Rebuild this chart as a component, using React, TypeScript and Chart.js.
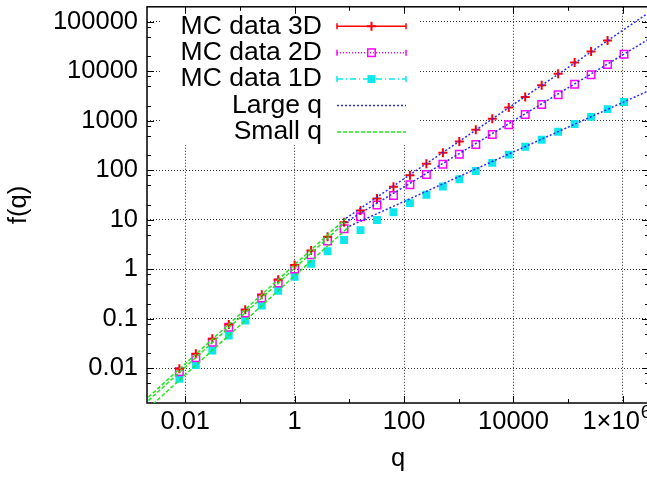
import React, { useEffect, useRef } from 'react';
import { Chart, registerables } from 'chart.js';

Chart.register(...registerables);

// ---- data ----
const qValues = [
  0.0078125, 0.015625, 0.03125, 0.0625, 0.125, 0.25, 0.5, 1, 2, 4, 8, 16, 32, 64,
  128, 256, 512, 1024, 2048, 4096, 8192, 16384, 32768, 65536, 131072, 262144, 524288, 1048576,
];
const mc3D = [
  0.0098, 0.0197, 0.0395, 0.0766, 0.153, 0.307, 0.615, 1.23, 2.39, 4.57, 8.9, 15.5, 27, 46.5,
  79, 135, 227, 383, 658, 1094, 1845, 3020, 5190, 8870, 15000, 25000, 41600,
];
const mc2D = [
  0.0086, 0.0164, 0.0338, 0.0676, 0.132, 0.264, 0.528, 1.02, 1.97, 3.75, 6.6, 11.5, 19.8, 31,
  50.8, 82, 132, 210, 333, 529, 829, 1335, 2120, 3370, 5450, 8500, 13700, 22100,
];
const mc1D = [
  0.0062, 0.0117, 0.023, 0.046, 0.092, 0.185, 0.37, 0.71, 1.3, 2.32, 3.9, 6.2, 9.9, 14.2,
  21.7, 32, 47, 66, 97, 141, 207, 299, 414, 600, 857, 1200, 1715, 2400,
];

// asymptotic lines (end points)
const small3DQ = [0.001, 8.7];
const small3DF = [0.00124, 10.8];
const small2DQ = [0.001, 8.3];
const small2DF = [0.00106, 8.8];
const small1DQ = [0.001, 10];
const small1DF = [0.00074, 7.4];
const large3DQ = [8.7, 10000000];
const large3DF = [10.8, 378000];
const large2DQ = [8.3, 10000000];
const large2DF = [8.8, 99800];
const large1DQ = [10, 10000000];
const large1DF = [7.43, 7431];

const legendLabels = ['MC data 3D', 'MC data 2D', 'MC data 1D', 'Large q', 'Small q'];

const xTickValues = [0.01, 1, 100, 10000, 1000000];
const xTickLabels = ['0.01', '1', '100', '10000', ''];
const xPowerTickValue = 1000000;
const xPowerTickBase = '1×10';
const xPowerTickExp = '6';
const xMinorTicks = [0.1, 10, 1000, 100000];
const yTickValues = [0.01, 0.1, 1, 10, 100, 1000, 10000, 100000];
const yTickLabels = ['0.01', '0.1', '1', '10', '100', '1000', '10000', '100000'];
const yMinorTicks = [
  0.005, 0.008, 0.02, 0.05, 0.08, 0.2, 0.5, 0.8, 2, 5, 8, 20, 50, 80, 200, 500, 800,
  2000, 5000, 8000, 20000, 50000, 80000,
];

const RED = '#ff0000';
const MAGENTA = '#ff00ff';
const CYAN = '#0ee6ee';
const BLUE = '#2a2aff';
const GREEN = '#22e622';
const FONT_FAMILY = '"Liberation Sans", Arial, Helvetica, sans-serif';
const FONT_SIZE = 25.5;
const KEY_FONT_SIZE = 26.5;

const pts = (xs: number[], ys: number[]) => ys.map((y, i) => ({ x: xs[i], y }));

const findLabel = (vals: number[], labels: string[], v: number) => {
  const i = vals.findIndex((t) => Math.abs(Math.log10(t) - Math.log10(v)) < 1e-6);
  return i >= 0 ? labels[i] : '';
};

const framePlugin = {
  id: 'gpFrame',
  beforeDatasetsDraw(chart: any) {
    const { ctx, chartArea: a, scales } = chart;
    const xs = scales.x;
    const ys = scales.y;
    ctx.save();
    // opaque key background
    ctx.fillStyle = '#ffffff';
    ctx.fillRect(a.left + 13, a.top, 260, 138);
    // frame
    ctx.strokeStyle = '#000';
    ctx.lineWidth = 1.5;
    ctx.setLineDash([]);
    ctx.strokeRect(a.left, a.top, a.right - a.left, a.bottom - a.top);
    ctx.lineWidth = 1;
    const vtick = (v: number, len: number) => {
      const p = Math.round(xs.getPixelForValue(v)) + 0.5;
      ctx.beginPath();
      ctx.moveTo(p, a.bottom);
      ctx.lineTo(p, a.bottom - len);
      ctx.moveTo(p, a.top);
      ctx.lineTo(p, a.top + len);
      ctx.stroke();
    };
    const htick = (v: number, len: number) => {
      const p = Math.round(ys.getPixelForValue(v)) + 0.5;
      ctx.beginPath();
      ctx.moveTo(a.left, p);
      ctx.lineTo(a.left + len, p);
      ctx.moveTo(a.right, p);
      ctx.lineTo(a.right - len, p);
      ctx.stroke();
    };
    xTickValues.forEach((v) => vtick(v, 7));
    xMinorTicks.forEach((v) => vtick(v, 4));
    yTickValues.forEach((v) => htick(v, 7));
    yMinorTicks.forEach((v) => htick(v, 4));

    // power-of-ten tick label with superscript
    const px = xs.getPixelForValue(xPowerTickValue);
    ctx.fillStyle = '#000';
    ctx.textBaseline = 'middle';
    ctx.textAlign = 'left';
    ctx.font = `${FONT_SIZE}px ${FONT_FAMILY}`;
    const bx = px - 40.5;
    const by = a.bottom + 19;
    ctx.fillText(xPowerTickBase, bx, by);
    const w = ctx.measureText(xPowerTickBase).width;
    ctx.font = `${FONT_SIZE * 0.75}px ${FONT_FAMILY}`;
    ctx.fillText(xPowerTickExp, bx + w + 1, by - 9);
    ctx.restore();
  },
  afterDatasetsDraw(chart: any) {
    const { ctx, chartArea: a } = chart;
    ctx.save();
    ctx.font = `${KEY_FONT_SIZE}px ${FONT_FAMILY}`;
    ctx.textAlign = 'right';
    ctx.textBaseline = 'middle';
    ctx.fillStyle = '#000';
    const textRight = a.left + 175;
    const x0 = a.left + 190;
    const x1 = a.left + 259;
    const xm = (x0 + x1) / 2;
    const rowY = (i: number) => a.top + 19.5 + i * 26.4;
    legendLabels.forEach((t, i) => ctx.fillText(t, textRight, rowY(i)));

    const sample = (y: number, color: string, dash: number[], caps: boolean, lw = 1.5) => {
      ctx.strokeStyle = color;
      ctx.lineWidth = lw;
      ctx.setLineDash(dash);
      ctx.beginPath();
      ctx.moveTo(x0, y);
      ctx.lineTo(x1, y);
      ctx.stroke();
      if (caps) {
        ctx.setLineDash([]);
        ctx.beginPath();
        ctx.moveTo(x0, y - 3);
        ctx.lineTo(x0, y + 3);
        ctx.moveTo(x1, y - 3);
        ctx.lineTo(x1, y + 3);
        ctx.stroke();
      }
      ctx.setLineDash([]);
    };
    // 3D
    let y = rowY(0);
    sample(y, RED, [], true);
    ctx.lineWidth = 2;
    ctx.beginPath();
    ctx.moveTo(xm - 4.5, y);
    ctx.lineTo(xm + 4.5, y);
    ctx.moveTo(xm, y - 4.5);
    ctx.lineTo(xm, y + 4.5);
    ctx.stroke();
    // 2D
    y = rowY(1);
    sample(y, MAGENTA, [1, 2], true);
    ctx.lineWidth = 1.5;
    ctx.strokeStyle = MAGENTA;
    ctx.strokeRect(xm - 3.75, y - 3.75, 7.5, 7.5);
    // 1D
    y = rowY(2);
    sample(y, CYAN, [6, 3, 1, 3], true);
    ctx.fillStyle = CYAN;
    ctx.fillRect(xm - 4, y - 4, 8, 8);
    // Large q
    sample(rowY(3), BLUE, [2, 2], false);
    // Small q
    sample(rowY(4), GREEN, [4, 2], false);
    ctx.restore();
  },
};

export default function App() {
  const ref = useRef<HTMLCanvasElement | null>(null);
  useEffect(() => {
    if (!ref.current) return;
    const font = { family: FONT_FAMILY, size: FONT_SIZE };
    const lineDs = (q: number[], f: number[], color: string, dash: number[]) => ({
      data: pts(q, f),
      showLine: true,
      borderColor: color,
      backgroundColor: color,
      borderWidth: 1.5,
      borderDash: dash,
      pointRadius: 0,
      order: 0,
    });
    const chart = new Chart(ref.current, {
      type: 'scatter',
      data: {
        datasets: [
          lineDs(large3DQ, large3DF, BLUE, [2, 2]),
          lineDs(large2DQ, large2DF, BLUE, [2, 2]),
          lineDs(large1DQ, large1DF, BLUE, [2, 2]),
          lineDs(small3DQ, small3DF, GREEN, [4, 2]),
          lineDs(small2DQ, small2DF, GREEN, [4, 2]),
          lineDs(small1DQ, small1DF, GREEN, [4, 2]),
          {
            data: pts(qValues, mc3D),
            pointStyle: 'cross',
            pointRadius: 4.5,
            borderColor: RED,
            backgroundColor: RED,
            borderWidth: 2,
            order: 1,
          },
          {
            data: pts(qValues, mc2D),
            pointStyle: 'rect',
            pointRadius: 5.3,
            borderColor: MAGENTA,
            backgroundColor: 'rgba(0,0,0,0)',
            borderWidth: 1.5,
            order: 2,
          },
          {
            data: pts(qValues, mc1D),
            pointStyle: 'rect',
            pointRadius: 5.6,
            borderColor: CYAN,
            backgroundColor: CYAN,
            borderWidth: 0,
            order: 3,
          },
        ] as any,
      },
      options: {
        animation: false,
        responsive: false,
        devicePixelRatio: 1,
        layout: { padding: { left: 0, right: 51, top: 5, bottom: 0 } },
        plugins: { legend: { display: false }, tooltip: { enabled: false } },
        scales: {
          x: {
            type: 'logarithmic',
            position: 'bottom',
            min: 0.002,
            max: 3000000,
            afterBuildTicks: (s: any) => {
              s.ticks = xTickValues.map((v) => ({ value: v }));
            },
            afterFit: (s: any) => {
              s.height = 76;
              s.paddingLeft = 0;
              s.paddingRight = 0;
            },
            ticks: {
              autoSkip: false,
              maxRotation: 0,
              minRotation: 0,
              padding: 4,
              color: '#000',
              font,
              callback: (v: any) => findLabel(xTickValues, xTickLabels, Number(v)),
            },
            grid: { color: '#333', lineWidth: 1, drawTicks: false },
            border: { display: false, dash: [1, 2] },
            title: { display: true, text: 'q', color: '#000', font, padding: { top: 0, bottom: 5 } },
          },
          y: {
            type: 'logarithmic',
            position: 'left',
            min: 0.002,
            max: 200000,
            afterBuildTicks: (s: any) => {
              s.ticks = yTickValues.map((v) => ({ value: v }));
            },
            afterFit: (s: any) => {
              s.width = 147;
              s.paddingTop = 0;
              s.paddingBottom = 0;
            },
            ticks: {
              autoSkip: false,
              padding: 9,
              color: '#000',
              font,
              callback: (v: any) => findLabel(yTickValues, yTickLabels, Number(v)),
            },
            grid: { color: '#333', lineWidth: 1, drawTicks: false },
            border: { display: false, dash: [1, 2] },
            title: { display: true, text: 'f(q)', color: '#000', font, padding: { top: 4, bottom: 0 } },
          },
        },
      } as any,
      plugins: [framePlugin],
    });
    return () => chart.destroy();
  }, []);

  return (
    <div
      style={{
        position: 'fixed',
        left: 0,
        top: 0,
        width: 647,
        height: 479,
        overflow: 'hidden',
        background: '#fff',
      }}
    >
      <canvas ref={ref} width={700} height={479} style={{ display: 'block', width: 700, height: 479 }} />
    </div>
  );
}
